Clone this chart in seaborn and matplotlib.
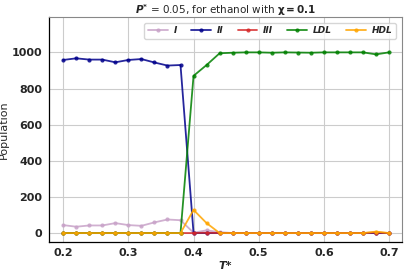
import numpy as np
import pandas as pd
import matplotlib
matplotlib.use("Agg")
import matplotlib.pyplot as plt
import seaborn as sns

sns.set_theme(style="whitegrid")
plt.rcParams['font.family'] = ['DejaVu Sans']

T = [0.20, 0.22, 0.24, 0.26, 0.28, 0.30, 0.32, 0.34, 0.36, 0.38, 0.40, 0.42, 0.44,
     0.46, 0.48, 0.50, 0.52, 0.54, 0.56, 0.58, 0.60, 0.62, 0.64, 0.66, 0.68, 0.70]
pop_I = [44, 35, 42, 42, 55, 44, 40, 59, 75, 71, 2, 15, 5,
         0, 0, 0, 0, 0, 0, 0, 0, 0, 0, 0, 0, 0]
pop_II = [958, 967, 960, 960, 945, 958, 963, 944, 927, 930, 0, 0, 0,
          0, 0, 0, 0, 0, 0, 0, 0, 0, 0, 0, 0, 0]
pop_III = [0, 0, 0, 0, 0, 0, 0, 0, 0, 0, 0, 2, 0,
           0, 0, 0, 0, 0, 0, 0, 0, 0, 0, 0, 3, 0]
pop_LDL = [0, 0, 0, 0, 0, 0, 0, 0, 0, 0, 870, 930, 995,
           998, 1000, 1000, 998, 1000, 999, 998, 1000, 1000, 1000, 1000, 989, 1000]
pop_HDL = [0, 0, 0, 0, 0, 0, 0, 0, 0, 0, 128, 55, 0,
           0, 0, 0, 0, 0, 0, 0, 0, 0, 0, 0, 8, 0]

labels = ["I", "II", "III", "LDL", "HDL"]
colors = ["#c8a2c8", "#00008b", "#d62728", "#008000", "#ffa500"]
series = [pop_I, pop_II, pop_III, pop_LDL, pop_HDL]

rows = []
for lab, vals in zip(labels, series):
    for t, v in zip(T, vals):
        rows.append({"T": t, "Population": v, "phase": lab})
df = pd.DataFrame(rows)

fig, ax = plt.subplots(figsize=(4.07, 2.72), dpi=100)
fig.subplots_adjust(left=0.12, right=0.988, top=0.937, bottom=0.11)

for lab, col in zip(labels, colors):
    sub = df[df["phase"] == lab]
    sns.lineplot(data=sub, x="T", y="Population", ax=ax, color=col, marker="o",
                 markersize=3, markeredgewidth=0, linewidth=1.3, alpha=0.85,
                 label=lab)

ax.set_xlim(0.178, 0.72)
ax.set_ylim(-50, 1195)
ax.set_xticks([0.2, 0.3, 0.4, 0.5, 0.6, 0.7])
ax.set_xticklabels(["0.2", "0.3", "0.4", "0.5", "0.6", "0.7"])
ax.set_yticks([0, 200, 400, 600, 800, 1000])
ax.tick_params(axis="both", labelsize=8, pad=1, length=3.5, width=0.6)
for t in ax.get_xticklabels() + ax.get_yticklabels():
    t.set_fontweight("bold")
ax.grid(True, color="#cccccc", linewidth=0.8)

for s in ["left", "bottom"]:
    ax.spines[s].set_color("black")
    ax.spines[s].set_linewidth(0.9)
for s in ["top", "right"]:
    ax.spines[s].set_color("#888888")
    ax.spines[s].set_linewidth(0.8)

ax.set_xlabel("T*", fontsize=8, fontweight="bold", fontstyle="italic", labelpad=2)
ax.set_ylabel("Population", fontsize=8, labelpad=2)
ax.set_title(r"$\mathbfit{P}^{\mathbf{*}}$ = 0.05, for ethanol with $\mathbf{\chi = 0.1}$",
             fontsize=7.5, pad=2)

leg = ax.legend(loc="upper right", ncol=5, fontsize=6.5, frameon=True,
                handlelength=2.2, columnspacing=1.6, borderpad=0.4,
                handletextpad=0.6, bbox_to_anchor=(0.995, 0.995))
for t in leg.get_texts():
    t.set_fontweight("bold")
    t.set_fontstyle("italic")

fig.savefig("out.png", dpi=100)
